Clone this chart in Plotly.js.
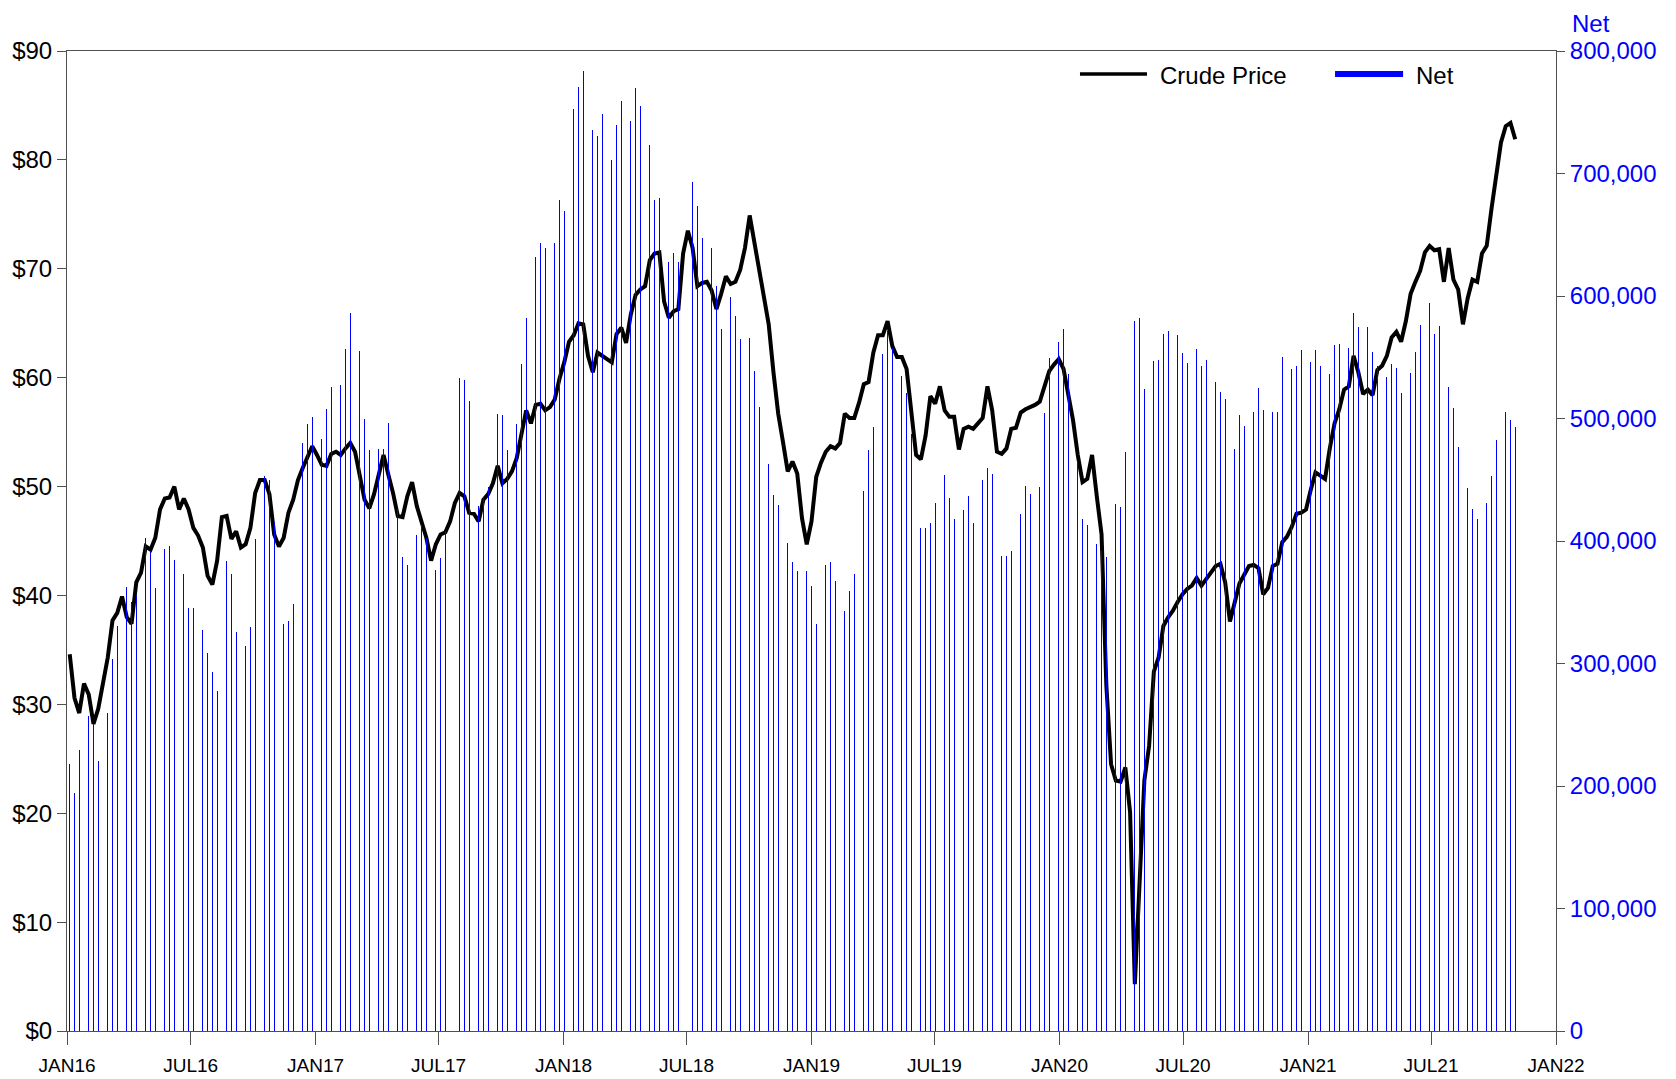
<!DOCTYPE html>
<html>
<head>
<meta charset="utf-8">
<script src="https://cdn.plot.ly/plotly-3.0.1.min.js"></script>
<style>
  html, body { margin: 0; padding: 0; background: #ffffff; }
  #chart { width: 1676px; height: 1079px; }
</style>
</head>
<body>
<div id="chart"></div>
<script>
// Weekly observations (Tuesdays), first week 2016-01-05
const firstWeek = '2016-01-05';

// Crude price, $ per barrel, by year
const price2016 = [34.6,30.6,29.2,31.9,30.9,28.2,29.6,31.8,34.3,37.7,38.4,39.9,38.0,37.4,41.2,42.1,44.5,44.2,45.3,47.9,48.9,49.0,50.0,47.9,48.9,47.9,46.2,45.5,44.4,41.8,41.0,43.2,47.2,47.3,45.2,45.9,44.4,44.7,46.2,49.4,50.6,50.6,49.3,45.6,44.5,45.3,47.6,48.8,50.6,51.7,52.8,53.7];
const price2017 = [52.9,52.0,51.9,53.0,53.2,52.9,53.5,54.0,53.2,51.1,48.8,48.0,49.3,51.1,52.9,51.1,49.4,47.3,47.2,49.1,50.4,48.2,46.6,45.3,43.2,44.7,45.6,45.8,46.8,48.5,49.4,49.1,47.6,47.5,46.8,48.8,49.3,50.3,51.9,50.3,50.7,51.4,52.6,54.7,57.0,55.8,57.5,57.6,57.0,57.3,58.0,59.9];
const price2018 = [61.4,63.3,63.9,65.0,64.9,62.0,60.5,62.3,62.0,61.7,61.4,64.0,64.6,63.2,65.8,67.6,68.1,68.4,70.8,71.4,71.5,67.0,65.5,66.1,66.3,71.4,73.5,71.9,68.4,68.7,68.8,68.0,66.3,67.7,69.3,68.6,68.8,69.9,71.9,74.9,72.5,69.9,67.3,64.9,60.5,56.7,54.1,51.4,52.3,51.2,47.1,44.7];
const price2019 = [46.8,50.9,52.2,53.2,53.7,53.5,54.0,56.7,56.3,56.3,57.7,59.4,59.6,62.3,63.9,63.9,65.2,62.9,61.9,61.9,60.8,57.0,52.9,52.5,54.7,58.3,57.6,59.2,57.0,56.4,56.4,53.4,55.3,55.5,55.3,55.8,56.3,59.2,57.0,53.2,53.0,53.5,55.3,55.4,56.8,57.1,57.3,57.5,57.8,59.2,60.6,61.2,61.7];
const price2020 = [60.8,58.5,56.1,52.9,50.4,50.7,52.9,49.1,45.6,31.8,24.5,23.0,22.9,24.2,20.1,4.3,14.2,23.0,26.2,33.0,34.3,37.2,38.0,38.6,39.4,40.1,40.6,40.9,41.6,40.9,41.5,42.1,42.7,42.9,41.2,37.6,39.4,41.1,41.9,42.7,42.8,42.5,40.1,40.7,42.7,42.9,44.9,45.4,46.3,47.5,47.6,47.9];
const price2021 = [49.7,51.3,51.0,50.7,53.5,55.8,57.1,58.9,59.2,62.0,60.5,58.5,58.9,58.4,60.7,61.1,62.0,63.7,64.2,63.3,65.2,67.7,68.8,69.8,71.5,72.1,71.7,71.8,68.8,71.9,69.0,68.1,64.9,67.3,69.0,68.8,71.4,72.1,75.5,78.7,81.6,83.1,83.4,81.9];

// Net position (contracts), by year
const net2016 = [217700,194300,229700,252100,256800,250500,220300,246300,259900,303600,330700,363500,362500,350500,355700,397400,402600,392200,362000,407800,393200,396300,384400,372900,372900,345300,345300,340000,327000,308800,293200,277600,327000,383300,372900,325500,359900,314000,329700,401500,457800,453100,449500,415600,368700,332300,334900,348400,439000,480000,495500,501500];
const net2017 = [499000,483000,508000,526000,543000,527600,557000,586000,563500,555000,500000,474400,457300,475500,475500,496000,456000,426000,387000,380700,399000,404700,413000,402600,375000,376500,386000,407800,442700,470300,532800,531200,514000,498000,428600,436000,444000,475500,504000,503000,474000,478000,495300,544200,582000,621300,631700,643000,639500,638000,643000,678600];
const net2018 = [669700,705700,752600,770800,783800,777500,735400,730700,748900,729100,710900,740000,759300,751500,742700,769700,755200,735900,722900,678600,680200,653600,627600,635400,627600,669700,702000,693200,673400,647300,649000,639500,608300,573400,588500,599400,583800,565000,581700,565600,539000,509300,482300,462500,437500,429700,410400,398400,382800,375500,371300,375500];
const net2019 = [363500,332300,359400,380700,382800,367200,341100,342700,359400,373400,385400,440600,474000,492700,526000,552600,571800,557300,542200,534900,520800,487000,464000,410400,410400,415000,430700,421800,454100,435400,418200,423400,425000,436400,415000,410400,449500,459300,454700,420800,388000,388000,392200,406200,421800,445300,438000,477000,444200,504100,549400,560400,562500];
const net2020 = [573400,536400,527600,465100,418200,413000,408800,397400,392200,387000,437500,430200,427600,472900,500000,579700,581700,523900,531700,546800,547400,569200,571300,553600,568200,553600,545300,550000,556700,543200,547400,534300,530200,521800,516100,472900,475500,502600,494200,505200,505200,525000,506700,482300,505200,505200,550000,544200,540600,543200,556200,540600];
const net2021 = [545800,556200,543200,540600,536400,559900,560900,558800,557800,585900,574400,565600,574400,554600,543200,543200,533800,544800,541600,520800,523900,537000,554600,576000,590000,594200,569200,575500,519800,526000,508800,476500,465100,443200,426000,418200,429700,430700,453100,482800,485900,505700,498900,492700];

// Axis tick positions and labels
const xTickDates = ['2016-01-01','2016-07-01','2017-01-01','2017-07-01','2018-01-01','2018-07-01','2019-01-01','2019-07-01','2020-01-01','2020-07-01','2021-01-01','2021-07-01','2022-01-01'];
const xTickLabels = ['JAN16','JUL16','JAN17','JUL17','JAN18','JUL18','JAN19','JUL19','JAN20','JUL20','JAN21','JUL21','JAN22'];

const seriesNames = ['Crude Price', 'Net'];

// ---- build
const crudePrice = [].concat(price2016, price2017, price2018, price2019, price2020, price2021);
const netPos = [].concat(net2016, net2017, net2018, net2019, net2020, net2021);
const DAY = 86400000;
const t0 = Date.parse(firstWeek + 'T00:00:00Z');
const dates = netPos.map((_, i) => new Date(t0 + i * 7 * DAY).toISOString().slice(0, 10));

const FONT = 'Liberation Sans, Arial, Helvetica, sans-serif';
const AXIS = '#505050';

const traces = [
  {
    type: 'bar',
    name: seriesNames[1],
    x: dates,
    y: netPos,
    yaxis: 'y2',
    width: 1.1 * DAY,
    marker: { color: '#0000ff', line: { width: 0 } },
    showlegend: false,
    hoverinfo: 'skip'
  },
  {
    type: 'scatter',
    mode: 'lines',
    name: seriesNames[0],
    x: dates,
    y: crudePrice,
    yaxis: 'y',
    line: { color: '#000000', width: 4 },
    showlegend: false
  }
];

const layout = {
  width: 1676,
  height: 1079,
  margin: { l: 67, r: 120, t: 51, b: 48, pad: 0 },
  paper_bgcolor: '#ffffff',
  plot_bgcolor: '#ffffff',
  font: { family: FONT, color: '#000000' },
  showlegend: false,
  bargap: 0,
  xaxis: {
    type: 'date',
    range: ['2016-01-01', '2022-01-01'],
    tickmode: 'array',
    tickvals: xTickDates,
    ticktext: xTickLabels,
    ticks: 'outside',
    ticklen: 13,
    tickwidth: 1,
    tickcolor: AXIS,
    ticklabelstandoff: 4,
    showline: true,
    linecolor: AXIS,
    linewidth: 1,
    mirror: true,
    showgrid: false,
    zeroline: false,
    tickfont: { size: 19, color: '#000000', family: FONT }
  },
  yaxis: {
    range: [0, 90],
    dtick: 10,
    tick0: 0,
    tickprefix: '$',
    ticks: 'outside',
    ticklen: 9,
    tickwidth: 1,
    tickcolor: AXIS,
    showline: true,
    linecolor: AXIS,
    linewidth: 1,
    showgrid: false,
    zeroline: false,
    tickfont: { size: 24, color: '#000000', family: FONT }
  },
  yaxis2: {
    overlaying: 'y',
    side: 'right',
    range: [0, 800000],
    dtick: 100000,
    tick0: 0,
    tickformat: ',d',
    ticks: 'outside',
    ticklen: 8,
    tickwidth: 1,
    tickcolor: AXIS,
    showline: true,
    linecolor: AXIS,
    linewidth: 1,
    showgrid: false,
    zeroline: false,
    tickfont: { size: 24, color: '#0000ff', family: FONT }
  },
  shapes: [
    { type: 'line', xref: 'paper', yref: 'paper', x0: 0.6803, x1: 0.7253, y0: 0.9765, y1: 0.9765,
      line: { color: '#000000', width: 3.5 } },
    { type: 'line', xref: 'paper', yref: 'paper', x0: 0.8516, x1: 0.8973, y0: 0.9765, y1: 0.9765,
      line: { color: '#0000ff', width: 6 } }
  ],
  annotations: [
    { xref: 'paper', yref: 'paper', x: 0.7325, y: 0.9745, xanchor: 'left', yanchor: 'middle',
      text: seriesNames[0], showarrow: false, font: { size: 24, color: '#000000', family: FONT } },
    { xref: 'paper', yref: 'paper', x: 0.9045, y: 0.9745, xanchor: 'left', yanchor: 'middle',
      text: seriesNames[1], showarrow: false, font: { size: 24, color: '#000000', family: FONT } },
    { xref: 'paper', yref: 'paper', x: 1.0095, y: 1.028, xanchor: 'left', yanchor: 'middle',
      text: 'Net', showarrow: false, font: { size: 24, color: '#0000ff', family: FONT } }
  ]
};

Plotly.newPlot('chart', traces, layout, { staticPlot: true, displayModeBar: false });
</script>
</body>
</html>
